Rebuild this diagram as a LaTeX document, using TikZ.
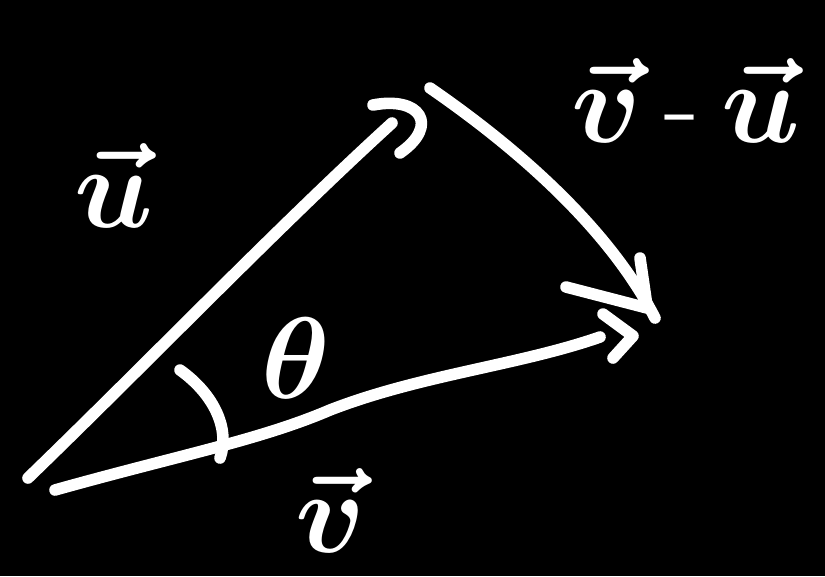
\RequirePackage{fix-cm}
\documentclass[tikz,border=0pt]{standalone}
\usepackage{amsmath}
\begin{document}
\begin{tikzpicture}[x=0.02cm,y=-0.02cm,line join=round,line cap=round,
	chalk/.style={white,line width=6.6pt},
	lbl/.style={white,font=\fontsize{66}{72}\selectfont\boldmath}]
			\fill[black] (0,0) rectangle (825,576);
			\coordinate (Ou) at (28,478);
			\coordinate (Ov) at (55,490);
			\coordinate (U) at (392,123);
			\coordinate (V) at (600,337);
			\coordinate (W0) at (430,88);
			\coordinate (W) at (655,318);
			% vectors
			\draw[chalk] (Ou) .. controls (150,360) and (280,225) .. (U);
			\draw[chalk] (373,105) .. controls (420,96) and (440,125) .. (400,153);
			\draw[chalk] (Ov) .. controls (180,455) and (260,440) .. (330,410) .. controls (420,375) and (520,365) .. (V);
			\draw[chalk] (603,314) -- (633,336) -- (613,358);
			\draw[chalk] (W0) .. controls (520,150) and (610,230) .. (W);
			\draw[chalk] (640,258) -- (647,306) (566,287) -- (647,308);
			% angle
			\draw[chalk] (180,370) .. controls (215,395) and (230,430) .. (220,458);
			\node[lbl] (u) at (114,185) {$\vec{u}$};
			\node[lbl] (th) at (296,358) {$\theta$};
			\node[lbl] (v) at (330,510) {$\vec{v}$};
			\node[lbl] (vu) at (686,100) {$\vec{v}\,\text{-}\,\vec{u}$};
	\end{tikzpicture}
\end{document}
